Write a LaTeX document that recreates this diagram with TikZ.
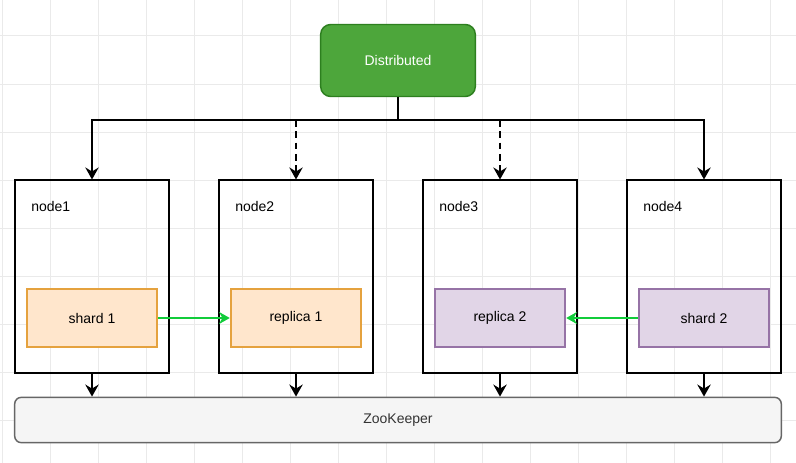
\documentclass[tikz,border=0pt]{standalone}
\usepackage{fontspec}
\setmainfont{Liberation Sans}
\usetikzlibrary{arrows.meta}
\usetikzlibrary{calc}

\definecolor{distfill}{HTML}{4DA63B}
\definecolor{distline}{HTML}{2D7F1F}
\definecolor{shardfill}{HTML}{FFE6CC}
\definecolor{shardline}{HTML}{E5A23E}
\definecolor{replfill}{HTML}{E1D5E7}
\definecolor{replline}{HTML}{9673A6}
\definecolor{zkfill}{HTML}{F5F5F5}
\definecolor{zkline}{HTML}{666666}
\definecolor{zktext}{HTML}{333333}
\definecolor{copyline}{HTML}{11CC3A}
\definecolor{gridgray}{HTML}{EAEAEA}

\begin{document}
\begin{tikzpicture}[x=0.75pt, y=-0.75pt,
    font=\fontsize{10.5}{12.6}\selectfont,
    gridline/.style={draw=gridgray, line width=0.75pt},
    server/.style={draw, line width=1.5pt, minimum width=116pt, minimum height=144pt, inner sep=0pt},
    orangebox/.style={draw=shardline, fill=shardfill, line width=1.4pt, minimum width=98pt, minimum height=44pt, inner sep=0pt},
    purplebox/.style={draw=replline, fill=replfill, line width=1.4pt, minimum width=98pt, minimum height=44pt, inner sep=0pt},
    link/.style={line width=1.5pt, -{Stealth[length=9pt, width=10pt, inset=3pt]}},
    copyarrow/.style={draw=copyline, line width=1.5pt, -{Stealth[length=8pt, width=9pt, inset=2.5pt]}}
  ]
    \fill[white] (0,0) rectangle (796,463);
    \useasboundingbox (0,0) rectangle (796,463);

    % background grid
    \foreach \gx in {0,...,16} \draw[gridline] ({2+48.05*\gx},0) -- ({2+48.05*\gx},463);
    \foreach \gy in {0,...,8} \draw[gridline] (0,{36+48.05*\gy}) -- (796,{36+48.05*\gy});

    \node[draw=distline, fill=distfill, line width=1.1pt, rounded corners=7.5pt, minimum width=116pt, minimum height=54pt, text=white] (dist) at (398,60.5) {Distributed};

    \node[server] (n1) at (92,276.5) {};
    \node[server] (n2) at (296,276.5) {};
    \node[server] (n3) at (500,276.5) {};
    \node[server] (n4) at (704,276.5) {};

    \node[anchor=west, inner sep=0pt] (l1) at (31,206) {node1};
    \node[anchor=west, inner sep=0pt] (l2) at (235,206) {node2};
    \node[anchor=west, inner sep=0pt] (l3) at (439,206) {node3};
    \node[anchor=west, inner sep=0pt] (l4) at (643,206) {node4};

    \node[orangebox] (s1) at (92,318) {shard 1};
    \node[orangebox] (r1) at (296,318) {replica 1};
    \node[purplebox] (r2) at (500,318) {replica 2};
    \node[purplebox] (s2) at (704,318) {shard 2};

    \node[draw=zkline, fill=zkfill, line width=1.1pt, rounded corners=5pt, minimum width=575pt, minimum height=34pt, text=zktext] (zk) at (398,420) {ZooKeeper};

    \coordinate (fork) at (398,120);

    \draw[line width=1.5pt] (dist.south) -- (fork);
    \draw[link] (fork) -| (n1.north);
    \draw[link] (fork) -| (n4.north);
    \draw[link, dash pattern=on 5pt off 3.5pt] (fork) -| (n2.north);
    \draw[link, dash pattern=on 5pt off 3.5pt] (fork) -| (n3.north);

    \draw[copyarrow] (s1) -- (r1);
    \draw[copyarrow] (s2) -- (r2);

    \draw[link] (n1.south) -- (n1.south |- zk.north);
    \draw[link] (n2.south) -- (n2.south |- zk.north);
    \draw[link] (n3.south) -- (n3.south |- zk.north);
    \draw[link] (n4.south) -- (n4.south |- zk.north);
\end{tikzpicture}
\end{document}
